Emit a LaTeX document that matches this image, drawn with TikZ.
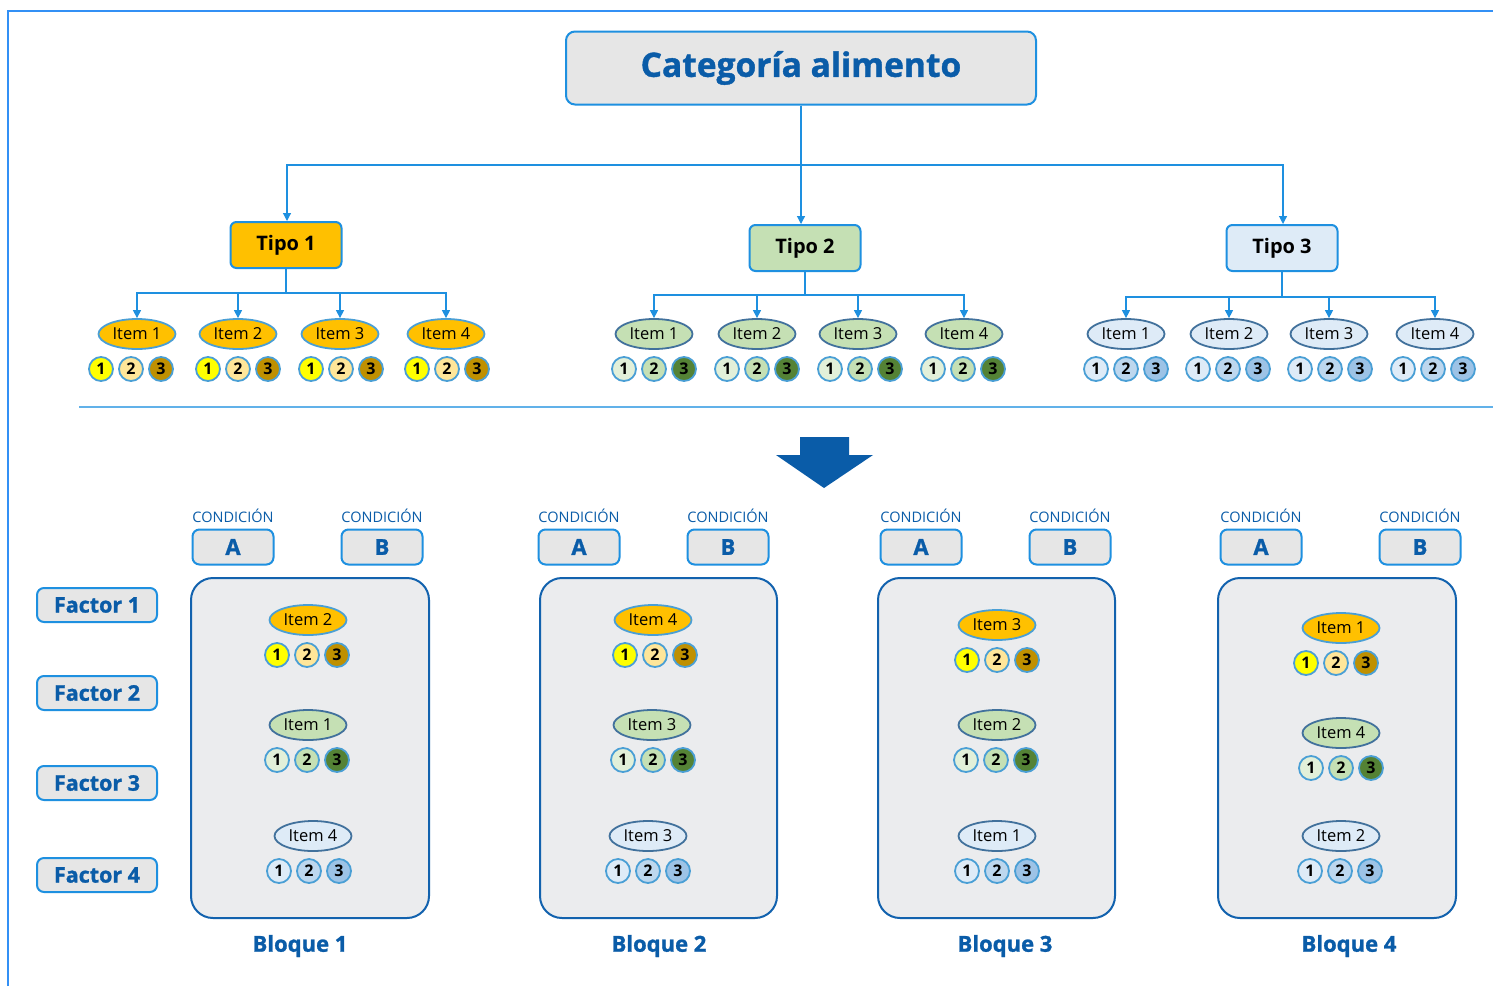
\documentclass[tikz,border=0pt]{standalone}
\usepackage{fontspec}
\setmainfont{Open Sans}
\newfontfamily\heavy{Open Sans}[FakeBold=1.2]
\usetikzlibrary{shapes.geometric,arrows.meta}

\definecolor{ink}{HTML}{0A5CA8}
\definecolor{edge}{HTML}{1E90E0}
\definecolor{frame}{HTML}{3390F5}
\definecolor{greybox}{HTML}{E6E6E6}
\definecolor{blockfill}{HTML}{EBECEE}
\definecolor{blockedge}{HTML}{1262AE}
\definecolor{dotedge}{HTML}{4A9FD5}
% palettes: oval fill, oval border, three dot fills
\definecolor{ovya}{HTML}{FFC000}
\definecolor{oeya}{HTML}{4A9FD5}
\definecolor{ya1}{HTML}{FFFF00}
\definecolor{ya2}{HTML}{FFE699}
\definecolor{ya3}{HTML}{BF9000}
\definecolor{ovgr}{HTML}{C5E0B4}
\definecolor{oegr}{HTML}{41719C}
\definecolor{gr1}{HTML}{E2F0D9}
\definecolor{gr2}{HTML}{C5E0B4}
\definecolor{gr3}{HTML}{548235}
\definecolor{ovbl}{HTML}{DEEBF7}
\definecolor{oebl}{HTML}{41719C}
\definecolor{bl1}{HTML}{DEEBF7}
\definecolor{bl2}{HTML}{BDD7EE}
\definecolor{bl3}{HTML}{9DC3E6}

\tikzset{
  conn/.style={draw=edge, line width=1.2pt},
  arr/.style={conn, -{Triangle[width=8pt,length=8pt]}},
  titlebox/.style={draw=edge, fill=greybox, line width=2pt, rounded corners=9pt,
    minimum width=470pt, minimum height=73pt, text=ink,
    font=\fontsize{33.5}{38}\heavy\bfseries},
  tipobox/.style={draw=edge, line width=2pt, rounded corners=6pt,
    minimum width=111pt, minimum height=46pt,
    font=\fontsize{20}{24}\selectfont\bfseries},
  oval/.style={ellipse, line width=1.8pt, minimum width=77pt, minimum height=30pt,
    inner sep=0pt, font=\fontsize{16.5}{18}\selectfont},
  dot/.style={circle, draw=dotedge, line width=1.8pt, minimum size=24pt,
    inner sep=0pt, font=\fontsize{16}{16}\selectfont\bfseries},
  condlabel/.style={text=ink, font=\fontsize{14.5}{16}\selectfont},
  condbox/.style={draw=edge, fill=greybox, line width=2pt, rounded corners=7pt,
    minimum width=81pt, minimum height=35pt, text=ink,
    font=\fontsize{22}{24}\heavy\bfseries},
  factorbox/.style={draw=edge, fill=greybox, line width=2pt, rounded corners=7pt,
    minimum width=120pt, minimum height=34pt, text=ink,
    font=\fontsize{21.5}{24}\heavy\bfseries},
  blockbox/.style={draw=blockedge, fill=blockfill, line width=2pt, rounded corners=22pt},
  blocklabel/.style={text=ink, font=\fontsize{22}{24}\heavy\bfseries},
}

% oval with its three numbered dots: name, oval x, oval y, dots x, dots y, text, palette
\newcommand\itemgroup[7]{%
  \node[oval, fill=ov#7, draw=oe#7] (#1) at (#2,#3) {#6};
  \node[dot, fill=#71] (#1d1) at (#4-30,#5) {1};
  \node[dot, fill=#72] (#1d2) at (#4,#5) {2};
  \node[dot, fill=#73] (#1d3) at (#4+30,#5) {3};
}

\begin{document}
\begin{tikzpicture}[x=1pt, y=-1pt]
\useasboundingbox[fill=white] (0,0) rectangle (1493,986);

% page frame and separator
\draw[draw=frame, line width=2pt] (8,986) -- (8,11) -- (1493,11);
\draw[draw=edge!70, line width=2pt] (79,407) -- (1493,407);

% ---------- hierarchy ----------
\node[titlebox] (cat) at (801,68) {Categoría alimento};

\node[tipobox, fill=ovya] (t1) at (286,245) {Tipo 1};
\node[tipobox, fill=ovgr] (t2) at (805,248) {Tipo 2};
\node[tipobox, fill=ovbl] (t3) at (1282,248) {Tipo 3};

\coordinate (cb1) at (287,165);
\coordinate (cb3) at (1283,165);
\draw[arr] (cat.south) -- (cat.south |- t2.north);
\draw[arr] (cat.south) |- (cb1) -- (cb1 |- t1.north);
\draw[arr] (cat.south) |- (cb3) -- (cb3 |- t3.north);

% Tipo 1 items
\itemgroup{a1}{137}{334}{131}{369}{Item 1}{ya}
\itemgroup{a2}{238}{334}{238}{369}{Item 2}{ya}
\itemgroup{a3}{340}{334}{341}{369}{Item 3}{ya}
\itemgroup{a4}{446}{334}{447}{369}{Item 4}{ya}
% Tipo 2 items
\itemgroup{b1}{654}{334}{654}{369}{Item 1}{gr}
\itemgroup{b2}{757}{334}{757}{369}{Item 2}{gr}
\itemgroup{b3}{858}{334}{860}{369}{Item 3}{gr}
\itemgroup{b4}{964}{334}{963}{369}{Item 4}{gr}
% Tipo 3 items
\itemgroup{c1}{1126}{334}{1126}{369}{Item 1}{bl}
\itemgroup{c2}{1229}{334}{1228}{369}{Item 2}{bl}
\itemgroup{c3}{1329}{334}{1330}{369}{Item 3}{bl}
\itemgroup{c4}{1435}{334}{1433}{369}{Item 4}{bl}

% bus from each Tipo to its items
\foreach \t/\p/\y in {t1/a/293, t2/b/295, t3/c/297}{
  \foreach \i in {1,2,3,4}{
    \coordinate (\p bus\i) at (\p\i.north |- 0,\y);
    \draw[arr] (\t.south) |- (\p bus\i) -- (\p\i.north);
  }
}

% ---------- down arrow ----------
\fill[ink] (800,437) -- (849,437) -- (849,455) -- (873,455) -- (824,488)
  -- (776,455) -- (800,455) -- cycle;

% ---------- factors ----------
\node[factorbox] (f1) at (97,605) {Factor 1};
\node[factorbox] (f2) at (97,693) {Factor 2};
\node[factorbox] (f3) at (97,783) {Factor 3};
\node[factorbox] (f4) at (97,875) {Factor 4};

% ---------- blocks ----------
\foreach \k/\xl/\xr/\xa/\xb/\xt in {1/191/429/233/382/300, 2/540/777/579/728/659,
                                    3/878/1115/921/1070/1005, 4/1218/1456/1261/1420/1349}{
  \node[condlabel] (ca\k) at (\xa,516) {CONDICIÓN};
  \node[condlabel] (cl\k) at (\xb,516) {CONDICIÓN};
  \node[condbox] (A\k) at (\xa,547) {A};
  \node[condbox] (B\k) at (\xb,547) {B};
  \path[blockbox] (\xl,578) rectangle (\xr,918);
  \node[blocklabel] (bl\k) at (\xt,946) {Bloque \k};
}

% Bloque 1
\itemgroup{p1}{308}{620}{307}{655}{Item 2}{ya}
\itemgroup{p2}{308}{725}{307}{760}{Item 1}{gr}
\itemgroup{p3}{313}{836}{309}{871}{Item 4}{bl}
% Bloque 2
\itemgroup{q1}{653}{620}{655}{655}{Item 4}{ya}
\itemgroup{q2}{652}{725}{653}{760}{Item 3}{gr}
\itemgroup{q3}{648}{836}{648}{871}{Item 3}{bl}
% Bloque 3
\itemgroup{r1}{997}{625}{997}{660}{Item 3}{ya}
\itemgroup{r2}{997}{725}{996}{760}{Item 2}{gr}
\itemgroup{r3}{997}{836}{997}{871}{Item 1}{bl}
% Bloque 4
\itemgroup{s1}{1341}{628}{1336}{663}{Item 1}{ya}
\itemgroup{s2}{1341}{733}{1341}{768}{Item 4}{gr}
\itemgroup{s3}{1341}{836}{1340}{871}{Item 2}{bl}

\end{tikzpicture}
\end{document}
